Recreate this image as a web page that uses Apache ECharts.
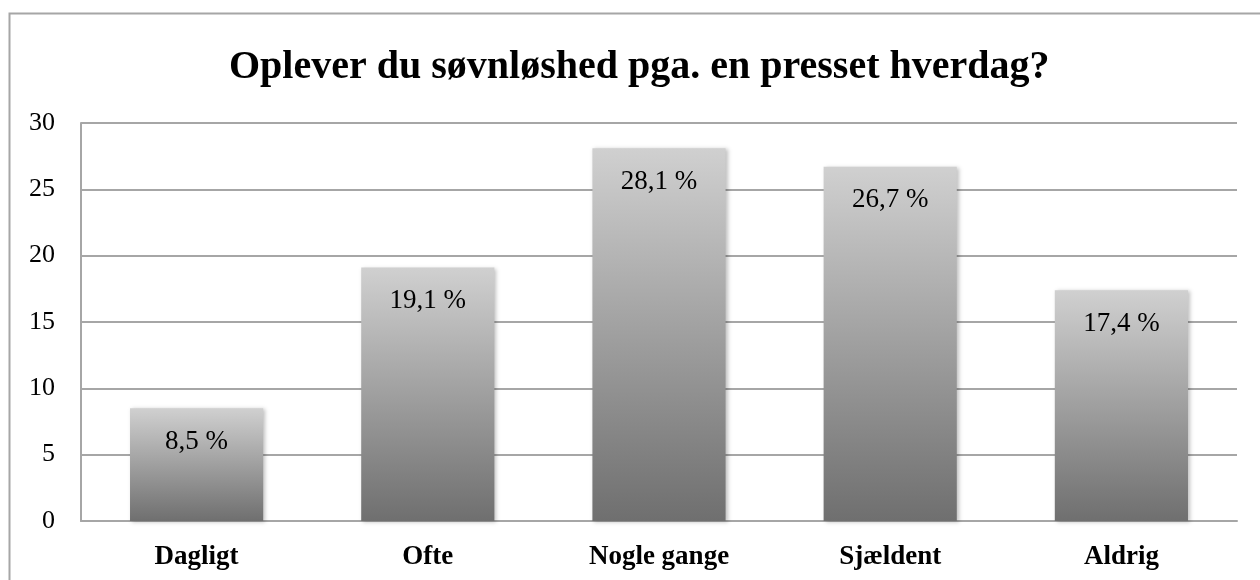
<!DOCTYPE html>
<html>
<head>
<meta charset="utf-8">
<script src="https://cdn.jsdelivr.net/npm/echarts@6/dist/echarts.min.js"></script>
<style>
  html, body { margin: 0; padding: 0; background: #fff; }
  #chart { width: 1260px; height: 580px; }
</style>
</head>
<body>
<div id="chart"></div>
<script>
const categories = ['Dagligt', 'Ofte', 'Nogle gange', 'Sjældent', 'Aldrig'];
const values = [8.5, 19.1, 28.1, 26.7, 17.4];
const yTicks = [0, 5, 10, 15, 20, 25, 30];

const chart = echarts.init(document.getElementById('chart'));
const serif = '"Liberation Serif", "DejaVu Serif", serif';

const option = {
    animation: false,
    title: {
        text: 'Oplever du søvnløshed pga. en presset hverdag?',
        left: 229,
        top: 48,
        padding: 0,
        textStyle: {fontFamily: serif, fontWeight: 'bold', fontSize: 40, color: '#000'},
    },
    graphic: [
        {
            type: 'rect',
            shape: {x: 9.5, y: 13.5, width: 1400, height: 700},
            style: {fill: 'none', stroke: '#a6a6a6', lineWidth: 2},
            silent: true,
        },
    ],
    grid: {left: 81, right: 23, top: 123, bottom: 59},
    xAxis: {
        type: 'category',
        data: categories,
        axisLine: {lineStyle: {color: '#a6a6a6', width: 2}},
        axisTick: {show: false},
        axisLabel: {
            fontFamily: serif, fontWeight: 'bold', fontSize: 27, color: '#000', margin: 23,
        },
    },
    yAxis: {
        type: 'value',
        min: yTicks[0],
        max: yTicks[yTicks.length - 1],
        interval: 5,
        axisLine: {show: true, lineStyle: {color: '#a6a6a6', width: 2}},
        axisTick: {show: false},
        splitLine: {lineStyle: {color: '#a6a6a6', width: 2}},
        axisLabel: {fontFamily: serif, fontSize: 26, color: '#000', margin: 26},
    },
    series: [
        {
            type: 'bar',
            data: values,
            barWidth: '57.6%',
            itemStyle: {
                color: new echarts.graphic.LinearGradient(0, 0, 0, 1, [
                    {offset: 0, color: '#d0d0d0'},
                    {offset: 1, color: '#6f6f6f'},
                ]),
                shadowColor: 'rgba(0,0,0,0.25)',
                shadowBlur: 4,
                shadowOffsetX: 2,
                shadowOffsetY: 1,
            },
            label: {
                show: true,
                position: 'insideTop',
                distance: 20,
                fontFamily: serif,
                fontSize: 27,
                color: '#000',
                formatter: (p) => String(p.value).replace('.', ',') + ' %',
            },
        },
    ],
};

chart.setOption(option);
</script>
</body>
</html>
